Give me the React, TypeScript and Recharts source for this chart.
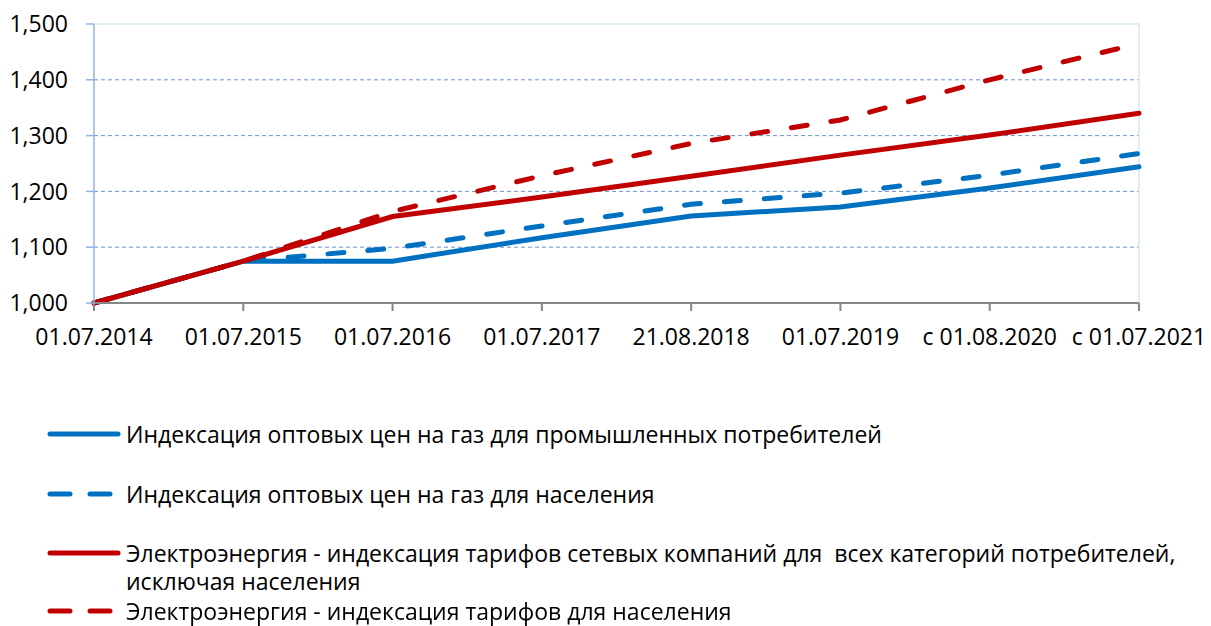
import { CartesianGrid, Line, LineChart, ReferenceLine, XAxis, YAxis } from 'recharts'

const categories = [
  '01.07.2014',
  '01.07.2015',
  '01.07.2016',
  '01.07.2017',
  '21.08.2018',
  '01.07.2019',
  'с 01.08.2020',
  'с 01.07.2021',
]
const gasIndustry = [1000, 1075, 1075, 1117, 1156, 1172, 1206, 1244]
const gasPopulation = [1000, 1075, 1098, 1138, 1177, 1197, 1229, 1268]
const gridElectricity = [1000, 1075, 1155, 1190, 1227, 1265, 1301, 1340]
const householdElectricity = [1000, 1075, 1164, 1228, 1286, 1328, 1400, 1465]
const yTicks = [1000, 1100, 1200, 1300, 1400, 1500]

const series = [
  { key: 'gasIndustry', name: 'Индексация оптовых цен на газ для промышленных потребителей', color: '#0070C0', dashed: false },
  { key: 'gasPopulation', name: 'Индексация оптовых цен на газ для населения', color: '#0070C0', dashed: true },
  {
    key: 'gridElectricity',
    name: 'Электроэнергия - индексация тарифов сетевых компаний для  всех категорий потребителей,\nисключая населения',
    color: '#C00000',
    dashed: false,
  },
  { key: 'householdElectricity', name: 'Электроэнергия - индексация тарифов для населения', color: '#C00000', dashed: true },
]

const data = categories.map((date, i) => ({
  date,
  gasIndustry: gasIndustry[i],
  gasPopulation: gasPopulation[i],
  gridElectricity: gridElectricity[i],
  householdElectricity: householdElectricity[i],
}))

const FONT = '"Open Sans", sans-serif'
const DASH = '16 24'
const legendTops = [420, 480, 539, 597]

const App = () => {
  return (
    <div style={{ position: 'fixed', left: 0, top: 0, width: 1211, height: 626, background: '#fff' }}>
      <LineChart
        width={1211}
        height={626}
        data={data}
        margin={{ top: 24, right: 72, left: 0, bottom: 283 }}
        style={{ fontFamily: FONT }}
      >
        <CartesianGrid
          vertical={false}
          horizontalValues={[1100, 1200, 1300, 1400]}
          stroke='#6f93d0'
          strokeDasharray='4 3'
        />
        <ReferenceLine y={1500} stroke='#d6eaf5' strokeWidth={1.5} />
        <ReferenceLine x={categories[categories.length - 1]} stroke='#d6eaf5' strokeWidth={1.5} />
        <XAxis
          dataKey='date'
          height={40}
          interval={0}
          stroke='#868686'
          strokeWidth={2}
          tickSize={8}
          tickMargin={18}
          tick={{ fill: '#000', fontSize: 23 }}
        />
        <YAxis
          width={94}
          domain={[1000, 1500]}
          ticks={yTicks}
          interval={0}
          stroke='#8fb3e3'
          strokeWidth={1.5}
          tickSize={8}
          tickMargin={18}
          tick={{ fill: '#000', fontSize: 23 }}
          tickFormatter={(v: number) => v.toLocaleString('en-US')}
        />
        {series.map((s) => (
          <Line
            key={s.key}
            dataKey={s.key}
            name={s.name}
            stroke={s.color}
            strokeWidth={5}
            strokeDasharray={s.dashed ? DASH : undefined}
            strokeLinecap='round'
            dot={false}
            activeDot={false}
            isAnimationActive={false}
          />
        ))}
      </LineChart>
      {series.map((s, i) => (
        <div
          key={s.key}
          style={{
            position: 'absolute',
            left: 46,
            top: legendTops[i],
            display: 'flex',
            alignItems: 'flex-start',
            fontFamily: FONT,
            fontSize: 23,
            lineHeight: '28px',
            color: '#000',
          }}
        >
          <svg width={76} height={28} style={{ flex: 'none' }}>
            <line
              x1={4}
              y1={14}
              x2={72}
              y2={14}
              stroke={s.color}
              strokeWidth={5}
              strokeLinecap='round'
              strokeDasharray={s.dashed ? '20 20' : undefined}
            />
          </svg>
          <span style={{ whiteSpace: 'pre-wrap', marginLeft: 4 }}>{s.name}</span>
        </div>
      ))}
    </div>
  )
}

export default App
